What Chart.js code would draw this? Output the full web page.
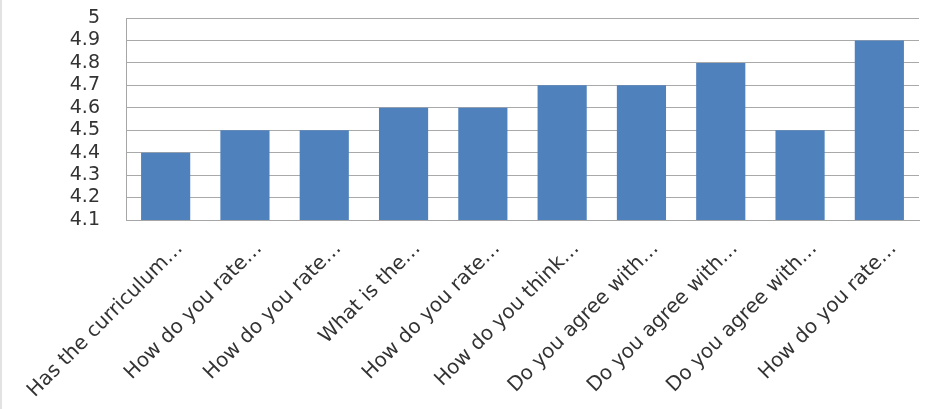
<!DOCTYPE html>
<html>
<head>
<meta charset="utf-8">
<script src="https://cdn.jsdelivr.net/npm/chart.js@4/dist/chart.umd.min.js"></script>
<style>
html,body{margin:0;padding:0;background:#fff;}
#wrap{position:relative;width:925px;height:409px;box-sizing:border-box;border-left:2px solid #e2e2e2;}
</style>
</head>
<body>
<div id="wrap"><canvas id="c" width="923" height="409"></canvas></div>
<script>
const categories = [
  'Has the curriculum…',
  'How do you rate…',
  'How do you rate…',
  'What is the…',
  'How do you rate…',
  'How do you think…',
  'Do you agree with…',
  'Do you agree with…',
  'Do you agree with…',
  'How do you rate…'
];
const values = [4.4, 4.5, 4.5, 4.6, 4.6, 4.7, 4.7, 4.8, 4.5, 4.9];
const yMin = 4.1;
const yMax = 5;
const yStep = 0.1;

const font = "'DejaVu Sans', Verdana, sans-serif";

new Chart(document.getElementById('c'), {
  type: 'bar',
  data: {
    labels: categories,
    datasets: [{
      data: values,
      backgroundColor: '#4f81bd',
      borderWidth: 0,
      categoryPercentage: 1,
      barPercentage: 0.62
    }]
  },
  options: {
    responsive: false,
    animation: false,
    layout: { padding: { top: 18, right: 6, left: 0, bottom: 0 } },
    plugins: { legend: { display: false }, tooltip: { enabled: false } },
    scales: {
      x: {
        grid: { display: false, drawTicks: false },
        border: { color: '#a6a6a6', width: 1 },
        ticks: {
          minRotation: 45, maxRotation: 45, autoSkip: false,
          padding: 17,
          labelOffset: 14,
          color: '#333',
          font: { family: font, size: 20 }
        },
        afterFit: s => { s.height = 189; s.paddingLeft = 0; s.paddingRight = 0; }
      },
      y: {
        min: yMin, max: yMax,
        grid: { color: '#a9a9a9', drawTicks: false, lineWidth: 1 },
        border: { color: '#a6a6a6', width: 1 },
        ticks: {
          stepSize: yStep,
          autoSkip: false,
          padding: 26,
          color: '#333',
          font: { family: font, size: 19 },
          callback: v => String(Math.round(v * 10) / 10)
        },
        afterFit: s => { s.width = 124; s.paddingTop = 0; s.paddingBottom = 0; }
      }
    }
  }
});
</script>
</body>
</html>
